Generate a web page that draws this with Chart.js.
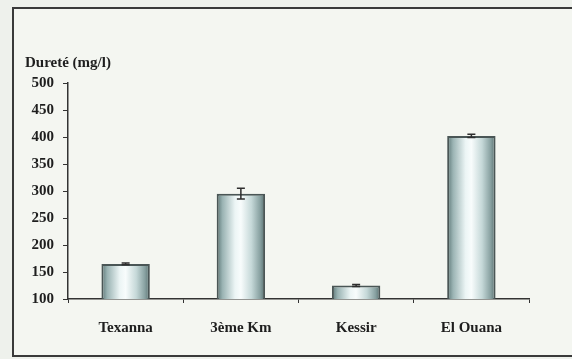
<!DOCTYPE html>
<html>
<head>
<meta charset="utf-8">
<script src="https://cdn.jsdelivr.net/npm/chart.js@4.4.1/dist/chart.umd.min.js"></script>
<style>
  html, body { margin: 0; padding: 0; background: #eef1ec; }
  #frame {
    position: absolute; left: 12px; top: 7px; width: 600px; height: 346px;
    border: 2px solid #3a3a3a; background: #f4f6f1;
  }
  #wrap { position: absolute; left: 0; top: 0; width: 572px; height: 359px; }
</style>
</head>
<body>
<div id="frame"></div>
<div id="wrap"><canvas id="myChart"></canvas></div>
<script>
const sites = ['Texanna', '3ème Km', 'Kessir', 'El Ouana'];
const durete = [165, 295, 125, 402];
const ecart = [1.5, 10, 2, 3];
const yTicks = [100, 150, 200, 250, 300, 350, 400, 450, 500];

const barPct = 0.42;

// bar fill: dark edges, pale centre
function barFill(context) {
    const chart = context.chart;
    const xs = chart.scales.x;
    if (!xs || !chart.chartArea) return '#d8e4e4';
    const cx = xs.getPixelForValue(context.dataIndex);
    const w = (xs.width / sites.length) * barPct;
    const g = chart.ctx.createLinearGradient(cx - w / 2, 0, cx + w / 2, 0);
    g.addColorStop(0, '#5a7474');
    g.addColorStop(0.12, '#9ab3b3');
    g.addColorStop(0.38, '#ecf5f5');
    g.addColorStop(0.5, '#f8fcfc');
    g.addColorStop(0.72, '#c5d8d8');
    g.addColorStop(0.9, '#87a0a0');
    g.addColorStop(1, '#566e6e');
    return g;
}

// error bars from the y scale
const errorBars = {
    id: 'errorBars',
    afterDatasetsDraw(chart) {
        const ctx = chart.ctx;
        const xs = chart.scales.x, ys = chart.scales.y;
        ctx.save();
        ctx.strokeStyle = '#2e2e2e';
        ctx.lineWidth = 1.5;
        durete.forEach((v, i) => {
            const x = xs.getPixelForValue(i);
            const top = ys.getPixelForValue(v + ecart[i]);
            const bot = ys.getPixelForValue(v - ecart[i]);
            ctx.beginPath();
            ctx.moveTo(x, top); ctx.lineTo(x, bot);
            ctx.moveTo(x - 4, top); ctx.lineTo(x + 4, top);
            ctx.moveTo(x - 4, bot); ctx.lineTo(x + 4, bot);
            ctx.stroke();
        });
        ctx.restore();
    }
};

Chart.defaults.font.family = '"Liberation Serif", "Times New Roman", serif';
Chart.defaults.font.weight = 'bold';
Chart.defaults.font.size = 15;
Chart.defaults.color = '#1e1e1e';

let myChart = document.getElementById('myChart').getContext('2d');
let duretePlot = new Chart(myChart, {
    type: 'bar',
    data: {
        labels: sites,
        datasets: [
            {
            label: 'Dureté',
            data: durete,
            backgroundColor: barFill,
            borderColor: '#4a5656',
            borderWidth: 2,
            borderSkipped: false,
            barPercentage: barPct,
            categoryPercentage: 1,
            }
        ]
    },
    options: {
        responsive: true,
        maintainAspectRatio: false,
        animation: false,
        layout: {
            padding: { left: 25, right: 43, top: 54, bottom: 6 }
        },
        scales: {
            x: {
                grid: {
                    display: true,
                    drawOnChartArea: false,
                    offset: true,
                    tickLength: 4,
                    color: '#333'
                },
                border: { color: '#333', width: 1.5 },
                ticks: { padding: 16, font: { size: 15 } }
            },
            y: {
                min: 100,
                max: 500,
                afterBuildTicks: axis => {
                    axis.ticks = yTicks.map(v => ({ value: v }));
                },
                afterFit: axis => { axis.width = 43; },
                grid: {
                    drawOnChartArea: false,
                    tickLength: 5,
                    color: '#333'
                },
                border: { color: '#333', width: 1.5 },
                ticks: { padding: 9, font: { size: 15 } }
            }
        },
        plugins: {
            legend: { display: false },
            tooltip: { enabled: false },
            title: {
                display: true,
                text: 'Dureté (mg/l)',
                align: 'start',
                font: { size: 15, weight: 'bold' },
                color: '#1e1e1e',
                padding: { top: 0, bottom: 11 }
            }
        }
    },
    plugins: [errorBars]
});
</script>
</body>
</html>
